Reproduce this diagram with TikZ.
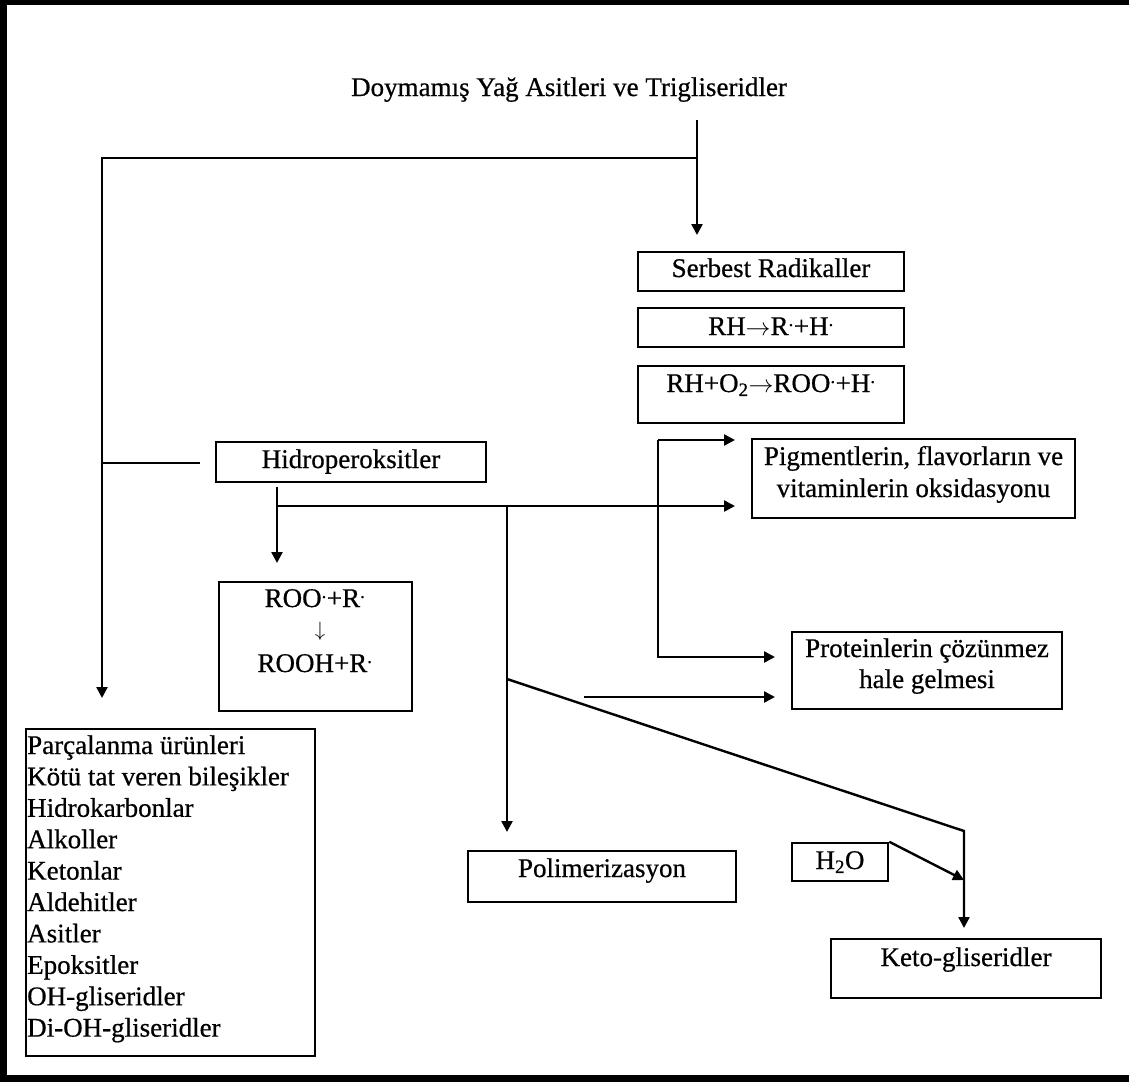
\documentclass[tikz,border=0pt]{standalone}
\usepackage{fontspec}
\setmainfont{Liberation Serif}[FakeBold=0.6]
\usetikzlibrary{arrows.meta}
\begin{document}
\begin{tikzpicture}[x=1pt,y=-1pt,
  box/.style={draw, line width=2.5pt, inner sep=0pt},
  txt/.style={inner sep=0pt, anchor=base, font=\fontsize{27}{31}\selectfont},
  conn/.style={line width=2.4pt},
  arr/.style={conn, -{Triangle[length=11pt,width=11pt]}}]
\useasboundingbox (0,0) rectangle (1129,1082);
% frame
\fill (0,0) rectangle (1129,5);
\fill (0,0) rectangle (7,1082);
\fill (0,1075) rectangle (1129,1082);

% boxes
\node[box, minimum width=266pt, minimum height=39pt] (serbest) at (771,271.5) {};
\node[box, minimum width=266pt, minimum height=39pt] (rh1) at (771,327.5) {};
\node[box, minimum width=266pt, minimum height=57pt] (rh2) at (771,394.5) {};
\node[box, minimum width=323pt, minimum height=79pt] (pigment) at (913.5,478.5) {};
\node[box, minimum width=270pt, minimum height=40pt] (hidro) at (351,462) {};
\node[box, minimum width=193pt, minimum height=129pt] (roo) at (315.5,646.5) {};
\node[box, minimum width=270pt, minimum height=77pt] (protein) at (927,670.5) {};
\node[box, minimum width=289pt, minimum height=327pt] (list) at (170.5,892.5) {};
\node[box, minimum width=268pt, minimum height=51pt] (poli) at (602,876.5) {};
\node[box, minimum width=96pt, minimum height=38pt] (h2o) at (840,862) {};
\node[box, minimum width=270pt, minimum height=59pt] (keto) at (966,968.5) {};

% texts
\node[txt] (title) at (569,96) {Doymamış Yağ Asitleri ve Trigliseridler};
\node[txt] (tserbest) at (771,277) {Serbest Radikaller};
\node[txt] (trh1) at (771,335) {RH$\rightarrow$R\textsuperscript{.}+H\textsuperscript{.}};
\node[txt] (trh2) at (771,392) {RH+O\textsubscript{2}$\rightarrow$ROO\textsuperscript{.}+H\textsuperscript{.}};
\node[txt] (tpig1) at (913.5,465) {Pigmentlerin, flavorların ve};
\node[txt] (tpig2) at (913.5,497) {vitaminlerin oksidasyonu};
\node[txt] (thidro) at (351,468) {Hidroperoksitler};
\node[txt] (troo1) at (315,607) {ROO\textsuperscript{.}+R\textsuperscript{.}};
\node[txt, font=\fontsize{21}{21}\selectfont] (troo2) at (320,636) {$\downarrow$};
\node[txt] (troo3) at (315,672) {ROOH+R\textsuperscript{.}};
\node[txt] (tpro1) at (927,657) {Proteinlerin çözünmez};
\node[txt] (tpro2) at (927,688) {hale gelmesi};
\node[txt] (tpoli) at (602,877) {Polimerizasyon};
\node[txt] (th2o) at (840,869) {H\textsubscript{2}O};
\node[txt] (tketo) at (966,966) {Keto-gliseridler};
\foreach \t [count=\i from 0] in {Parçalanma ürünleri, Kötü tat veren bileşikler, Hidrokarbonlar, Alkoller, Ketonlar, Aldehitler, Asitler, Epoksitler, OH-gliseridler, Di-OH-gliseridler}
  \node[txt, anchor=base west] (tl\i) at (27,754+31.4*\i) {\t};

% junction coordinates
\coordinate (c1) at (697,120);
\coordinate (c2) at (697,158);
\coordinate (a1) at (697,235);
\coordinate (c3) at (102,158);
\coordinate (c4) at (102,698);
\coordinate (s1) at (102,463);
\coordinate (s2) at (200,463);
\coordinate (h1) at (277,487);
\coordinate (h2) at (277,563);
\coordinate (h3) at (277,506);
\coordinate (h4) at (735,506);
\coordinate (p1) at (507,506);
\coordinate (p2) at (507,832);
\coordinate (d1) at (507,679);
\coordinate (d2) at (964,831);
\coordinate (d3) at (964,928);
\coordinate (d4) at (964,880);
\coordinate (e1) at (584,697);
\coordinate (e2) at (775,697);
\coordinate (f1) at (658,440);
\coordinate (f2) at (735,440);
\coordinate (f3) at (658,657);
\coordinate (f4) at (775,657);

% connectors
\draw[arr] (c1) -- (a1);
\draw[arr] (c2) -- (c3) -- (c4);
\draw[conn] (s1) -- (s2);
\draw[arr] (h1) -- (h2);
\draw[arr] (h3) -- (h4);
\draw[arr] (p1) -- (p2);
\draw[arr] (d1) -- (d2) -- (d3);
\draw[arr] (h2o.north east) -- (d4);
\draw[arr] (e1) -- (e2);
\draw[arr] (f1) -- (f2);
\draw[arr] (f1) -- (f3) -- (f4);
\end{tikzpicture}
\end{document}
